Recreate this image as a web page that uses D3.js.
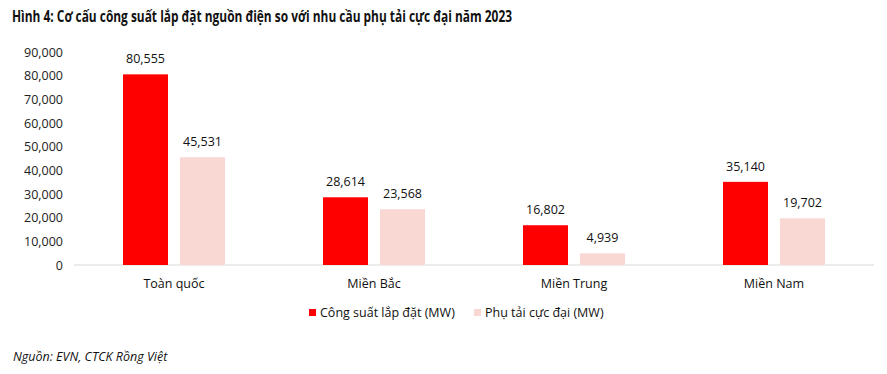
<!DOCTYPE html>
<html><head><meta charset="utf-8">
<script src="https://cdn.jsdelivr.net/npm/d3@7"></script>
<style>body{margin:0;background:#fff}svg{display:block;font-family:"Open Sans",sans-serif}</style>
</head><body><svg id="c" width="887" height="374"></svg>
<script>
const categories = ["Toàn quốc","Miền Bắc","Miền Trung","Miền Nam"];
const installed = [80555,28614,16802,35140];
const peakLoad = [45531,23568,4939,19702];
const seriesNames = ["Công suất lắp đặt (MW)","Phụ tải cực đại (MW)"];
const yTicks = [0,10000,20000,30000,40000,50000,60000,70000,80000,90000];
const colors = ["#FF0000","#F9D8D3"];

const svg = d3.select("#c");
const fmt = d3.format(",");
const x = d3.scaleBand().domain(categories).range([74,874]);
const y = d3.scaleLinear().domain([0,90000]).range([265,52]);

svg.append("text").attr("x",12).attr("y",22).attr("font-size",15.5).attr("font-weight","bold")
  .attr("fill","#111").attr("textLength",500).attr("lengthAdjust","spacingAndGlyphs")
  .text("Hình 4: Cơ cấu công suất lắp đặt nguồn điện so với nhu cầu phụ tải cực đại năm 2023");

const yAxis = d3.axisLeft(y).tickValues(yTicks).tickFormat(fmt).tickSize(0).tickPadding(0);
const ga = svg.append("g").attr("transform","translate(63,0)").call(yAxis);
ga.select(".domain").remove();
ga.selectAll("text").attr("font-size",12.5).attr("fill","#222").attr("font-family","Open Sans");

svg.append("line").attr("x1",74).attr("x2",874).attr("y1",y(0)).attr("y2",y(0))
  .attr("stroke","#d9d9d9").attr("stroke-width",1);

const series = [installed, peakLoad];
const offs = [-51, 6];
series.forEach((vals,si)=>{
  const g = svg.append("g");
  g.selectAll("rect").data(vals).join("rect")
    .attr("x",(d,i)=>x(categories[i])+x.bandwidth()/2+offs[si])
    .attr("width",45)
    .attr("y",d=>y(d)).attr("height",d=>y(0)-y(d))
    .attr("fill",colors[si]);
  g.selectAll("text").data(vals).join("text")
    .attr("x",(d,i)=>x(categories[i])+x.bandwidth()/2+offs[si]+22.5)
    .attr("y",d=>y(d)-11)
    .attr("text-anchor","middle").attr("font-size",12.5).attr("fill","#111")
    .text(d=>fmt(d));
});

svg.append("g").selectAll("text").data(categories).join("text")
  .attr("x",d=>x(d)+x.bandwidth()/2).attr("y",288)
  .attr("text-anchor","middle").attr("font-size",12.5).attr("fill","#111").text(d=>d);

const legX = [309, 474];
seriesNames.forEach((n,i)=>{
  svg.append("rect").attr("x",legX[i]).attr("y",309).attr("width",7).attr("height",7).attr("fill",colors[i]);
  svg.append("text").attr("x",legX[i]+11).attr("y",317).attr("font-size",12.5).attr("fill","#111").text(n);
});

svg.append("text").attr("x",13).attr("y",361).attr("font-size",12.5).attr("font-style","italic")
  .attr("fill","#111").text("Nguồn: EVN, CTCK Rồng Việt");
</script></body></html>
